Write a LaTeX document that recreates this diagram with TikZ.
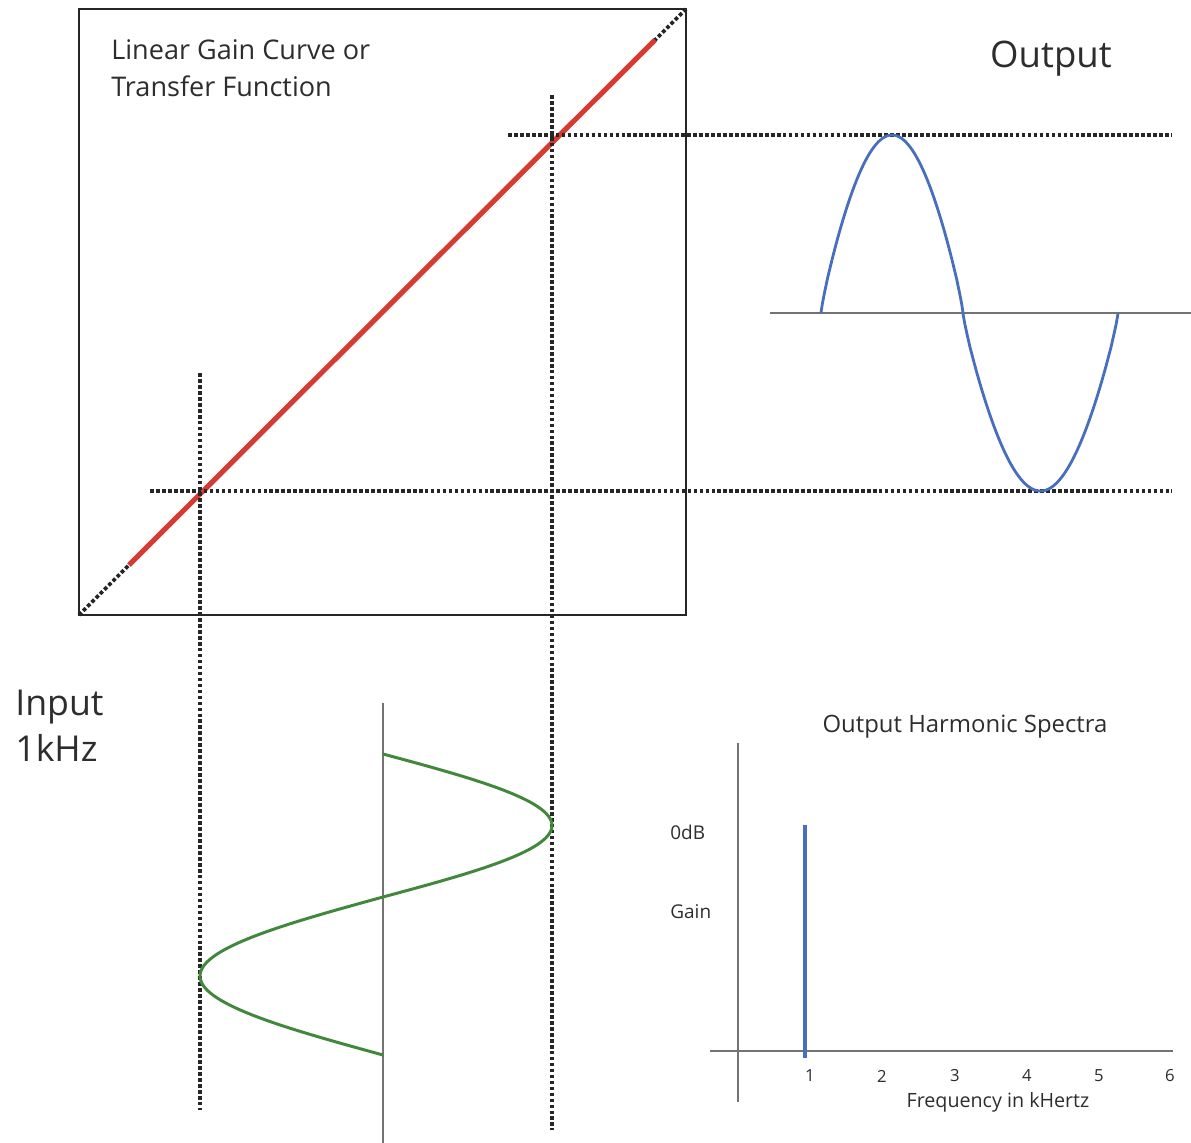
\documentclass[tikz,border=0pt]{standalone}
\usepackage{fontspec}
\setmainfont{Open Sans}
\definecolor{gainred}{RGB}{214,58,48}
\definecolor{outblue}{RGB}{72,110,190}
\definecolor{ingreen}{RGB}{66,136,60}
\definecolor{axisgray}{RGB}{115,115,115}
\definecolor{txtgray}{RGB}{45,45,45}
\begin{document}
\begin{tikzpicture}[x=0.02cm,y=-0.02cm,
  dotline/.style={line width=2.1pt, dash pattern=on 2.1pt off 1.3pt, black!85},
  axisline/.style={line width=1.3pt, axisgray},
  frame/.style={line width=1.1pt, black!85},
  lbl/.style={inner sep=0pt, text=txtgray},
  tick/.style={lbl, font=\fontsize{9.5}{11}\selectfont}]
\useasboundingbox (0,0) rectangle (1191,1143);
% transfer function box
\coordinate (bl) at (79,615);
\coordinate (tr) at (686,9);
\draw[frame] (bl) rectangle (tr);
\draw[dotline] (bl) -- (tr);
\coordinate (rs) at (129,565);
\coordinate (re) at (655,40);
\draw[gainred, line width=2.9pt] (rs) -- (re);
\node[lbl, anchor=north west, align=left, font=\fontsize{15.4}{21.5}\selectfont] (title) at (111,39)
  {Linear Gain Curve or\\Transfer Function};
% dotted projection lines
\coordinate (h1a) at (508,135); \coordinate (h1b) at (1172,135);
\coordinate (h2a) at (150,491); \coordinate (h2b) at (1172,491);
\coordinate (v1a) at (552,95);  \coordinate (v1b) at (552,1130);
\coordinate (v2a) at (200,373); \coordinate (v2b) at (200,1110);
\draw[dotline] (h1a) -- (h1b);
\draw[dotline] (h2a) -- (h2b);
\draw[dotline] (v1a) -- (v1b);
\draw[dotline] (v2a) -- (v2b);
% output waveform
\node[lbl, font=\fontsize{20.8}{24}\selectfont] (outlbl) at (1051,59) {Output};
\coordinate (oa) at (770,313); \coordinate (ob) at (1191,313);
\draw[axisline] (oa) -- (ob);
\coordinate (o0) at (821,313); \coordinate (o1) at (963,313); \coordinate (o2) at (1118,313);
\draw[outblue, line width=1.6pt, line join=round] (o0)
  -- plot[domain=0.3:179.7, samples=120] ({821+\x/180*142}, {313-178*sin(\x)^0.85})
  -- (o1)
  -- plot[domain=0.3:179.7, samples=120] ({963+\x/180*155}, {313+178*sin(\x)^0.85})
  -- (o2);
% input waveform
\node[lbl, anchor=north west, align=left, font=\fontsize{20.3}{26}\selectfont] (inlbl) at (15,690) {Input\\1kHz};
\coordinate (ia) at (383,703); \coordinate (ib) at (383,1143);
\draw[axisline] (ia) -- (ib);
\draw[ingreen, line width=1.7pt] plot[domain=0:180, samples=80] ({383+169*sin(\x)}, {754+\x/180*143})
  -- plot[domain=0:180, samples=80] ({383-183*sin(\x)}, {897+\x/180*158});
% spectrum
\node[lbl, font=\fontsize{13.6}{16}\selectfont] (spt) at (965,727) {Output Harmonic Spectra};
\coordinate (sya) at (738,743); \coordinate (syb) at (738,1102);
\coordinate (sxa) at (710,1051); \coordinate (sxb) at (1173,1051);
\draw[axisline] (sya) -- (syb);
\draw[axisline] (sxa) -- (sxb);
\coordinate (ba) at (805,825); \coordinate (bb) at (805,1058);
\draw[outblue, line width=2.2pt] (ba) -- (bb);
\node[tick, anchor=west, font=\fontsize{10.8}{12}\selectfont] (odb) at (670,832) {0dB};
\node[tick, anchor=west, font=\fontsize{10.8}{12}\selectfont] (gain) at (670,912) {Gain};
\node[tick] (t1) at (810,1076) {1};
\node[tick] (t2) at (882,1076) {2};
\node[tick] (t3) at (955,1076) {3};
\node[tick] (t4) at (1027,1076) {4};
\node[tick] (t5) at (1099,1076) {5};
\node[tick] (t6) at (1170,1076) {6};
\node[lbl, font=\fontsize{11.2}{13}\selectfont] (freq) at (998,1102) {Frequency in kHertz};
\end{tikzpicture}
\end{document}
